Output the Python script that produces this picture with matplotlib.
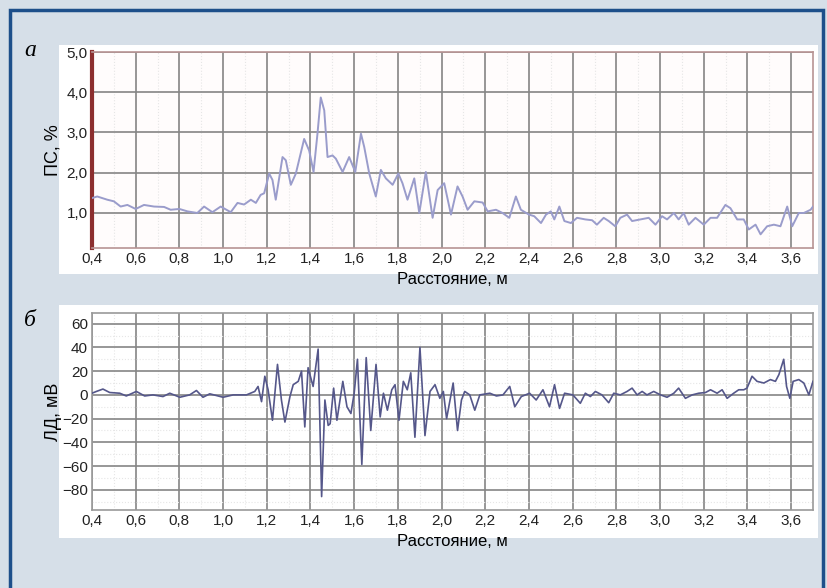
import matplotlib
matplotlib.use("Agg")
import matplotlib.pyplot as plt
from matplotlib.patches import Rectangle
from matplotlib.ticker import FixedLocator, MultipleLocator, FuncFormatter

# top panel: ПС, % vs distance
ps_x = [0.40, 0.424, 0.47, 0.50, 0.531, 0.562, 0.60, 0.638, 0.684, 0.73, 0.76, 0.80, 0.837, 0.882,
        0.913, 0.951, 0.989, 1.035, 1.066, 1.096, 1.127, 1.15, 1.172, 1.188, 1.211, 1.226, 1.241,
        1.272, 1.287, 1.31, 1.333, 1.371, 1.394, 1.414, 1.432, 1.447, 1.463, 1.478,
        1.501, 1.516, 1.547, 1.577, 1.605, 1.631, 1.646, 1.669, 1.699, 1.722, 1.745, 1.776, 1.802,
        1.821, 1.844, 1.875, 1.898, 1.928, 1.959, 1.982, 2.012, 2.043, 2.073, 2.096, 2.119, 2.15,
        2.188, 2.211, 2.249, 2.279, 2.31, 2.34, 2.363, 2.40, 2.424, 2.455, 2.478, 2.50, 2.516,
        2.539, 2.562, 2.592, 2.62, 2.658, 2.689, 2.711, 2.742, 2.765, 2.795, 2.818, 2.849, 2.872,
        2.91, 2.948, 2.979, 3.009, 3.032, 3.063, 3.085, 3.108, 3.131, 3.162, 3.20, 3.231, 3.261,
        3.299, 3.322, 3.353, 3.383, 3.406, 3.437, 3.46, 3.49, 3.521, 3.551, 3.582, 3.605, 3.635,
        3.658, 3.689, 3.70]
ps_y = [1.37, 1.41, 1.33, 1.29, 1.16, 1.20, 1.10, 1.20, 1.16, 1.15, 1.08, 1.10, 1.04, 1.00,
        1.16, 1.02, 1.16, 1.02, 1.25, 1.21, 1.33, 1.25, 1.45, 1.49, 1.98, 1.82, 1.33,
        2.39, 2.31, 1.70, 1.98, 2.84, 2.55, 2.02, 2.97, 3.87, 3.55, 2.39,
        2.43, 2.35, 2.02, 2.39, 2.02, 2.97, 2.64, 1.98, 1.41, 2.07, 1.86, 1.70, 1.98,
        1.74, 1.33, 1.86, 1.00, 2.02, 0.88, 1.57, 1.74, 0.96, 1.66, 1.41, 1.08, 1.29,
        1.26, 1.04, 1.08, 1.00, 0.88, 1.41, 1.08, 0.96, 0.92, 0.75, 0.96, 1.04, 0.84,
        1.16, 0.80, 0.75, 0.88, 0.84, 0.82, 0.71, 0.88, 0.80, 0.67, 0.88, 0.96, 0.80,
        0.84, 0.88, 0.71, 0.92, 0.84, 1.00, 0.84, 1.00, 0.71, 0.88, 0.71, 0.88, 0.88,
        1.20, 1.12, 0.84, 0.84, 0.59, 0.71, 0.47, 0.67, 0.71, 0.67, 1.16, 0.67,
        1.00, 1.00, 1.08, 1.16]

# bottom panel: ЛД, мВ vs distance
ld_x = [0.40, 0.42, 0.45, 0.481, 0.527, 0.557, 0.603, 0.641, 0.679, 0.725, 0.756, 0.802, 0.847,
        0.878, 0.908, 0.939, 1.0, 1.046, 1.107, 1.145, 1.16, 1.176, 1.191, 1.206, 1.226, 1.249,
        1.267, 1.283, 1.306, 1.321, 1.344, 1.359, 1.374, 1.389, 1.412, 1.435, 1.451, 1.466,
        1.481, 1.49, 1.506, 1.521, 1.548, 1.567, 1.585, 1.60, 1.615, 1.635, 1.655, 1.676, 1.70,
        1.719, 1.734, 1.752, 1.772, 1.787, 1.805, 1.825, 1.843, 1.859, 1.878, 1.901, 1.924,
        1.947, 1.97, 1.992, 2.008, 2.023, 2.053, 2.073, 2.091, 2.106, 2.129, 2.152, 2.175,
        2.221, 2.251, 2.281, 2.312, 2.335, 2.365, 2.403, 2.433, 2.464, 2.494, 2.517, 2.54,
        2.563, 2.601, 2.635, 2.658, 2.681, 2.704, 2.734, 2.765, 2.788, 2.818, 2.849, 2.872,
        2.895, 2.918, 2.94, 2.971, 3.002, 3.032, 3.063, 3.085, 3.116, 3.147, 3.177, 3.208,
        3.231, 3.261, 3.284, 3.307, 3.337, 3.36, 3.383, 3.398, 3.421, 3.444, 3.475, 3.505,
        3.528, 3.544, 3.566, 3.579, 3.594, 3.609, 3.635, 3.658, 3.681, 3.70]
ld_y = [1.4, 2.9, 4.9, 2.0, 1.4, -0.9, 2.9, -0.9, 0.0, -1.4, 1.4, -2.0, 0.0,
        3.7, -2.0, 0.9, -2.0, 0.0, 0.0, 2.9, 7.1, -5.7, 15.7, 4.3, -21.4, 25.7,
        -4.3, -22.9, -1.4, 8.6, 11.4, 20.0, -27.0, 22.9, 7.1, 38.6, -85.7, -4.3,
        -25.7, -24.3, 5.7, -21.4, 11.4, -10.0, -15.7, 1.4, 30.0, -58.6, 31.4, -30.0, 25.7,
        -18.6, 1.4, -12.9, 4.3, 8.6, -21.4, 11.4, 4.3, 18.6, -35.7, 40.0, -34.3,
        2.9, 8.6, -2.9, 2.9, -20.0, 10.0, -30.0, -4.3, 2.9, 0.0, -12.9, 0.0,
        1.4, -0.9, 0.0, 7.1, -10.0, -1.4, 1.4, -4.3, 4.3, -10.0, 8.6, -11.4,
        1.4, 0.0, -7.1, 1.4, -1.4, 2.9, 0.0, -6.6, 1.4, 0.0, 2.9, 5.7,
        0.0, 2.9, 0.0, 2.9, 0.0, -2.0, 1.4, 5.7, -2.9, 0.0, 1.4, 2.0,
        4.3, 1.4, 4.3, -2.9, 1.4, 4.3, 4.3, 5.7, 15.7, 11.4, 10.0, 12.9,
        11.4, 17.1, 30.0, 7.1, -2.9, 11.4, 12.9, 10.0, 0.0, 11.4]

x_ticks = [0.4, 0.6, 0.8, 1.0, 1.2, 1.4, 1.6, 1.8, 2.0, 2.2, 2.4, 2.6, 2.8, 3.0, 3.2, 3.4, 3.6]
ps_ticks = [1.0, 2.0, 3.0, 4.0, 5.0]
ld_ticks = [60, 40, 20, 0, -20, -40, -60, -80]

W, H = 828, 588
plt.rcParams['font.family'] = ['Liberation Sans Narrow', 'Liberation Sans', 'DejaVu Sans']

fig = plt.figure(figsize=(W / 100, H / 100), dpi=100)
fig.patch.set_facecolor('#d6dfe8')


def box(x0, y0, x1, y1):
    # pixel box -> figure fractions (left, bottom, width, height)
    return [x0 / W, 1 - y1 / H, (x1 - x0) / W, (y1 - y0) / H]


# outer frame and white panels
l, b, w, h = box(10, 10, 823, 600)
fig.patches.append(Rectangle((l, b), w, h, transform=fig.transFigure, fill=False,
                             edgecolor='#1d4f8a', linewidth=2.5, zorder=-5))
for y0, y1 in [(45, 274), (305, 538)]:
    l, b, w, h = box(59, y0, 818, y1)
    fig.patches.append(Rectangle((l, b), w, h, transform=fig.transFigure,
                                 facecolor='white', edgecolor='none', zorder=-5))

comma = FuncFormatter(lambda v, p: ('%.1f' % v).replace('.', ','))

ax1 = fig.add_axes(box(92, 52, 813, 248))
ax1.set_facecolor('#fffcfc')
ax1.plot(ps_x, ps_y, color='#9a9ccb', lw=1.4, zorder=3)
ax1.set_xlim(0.4, 3.7)
ax1.set_ylim(0.13, 5.0)
ax1.set_yticks(ps_ticks)
ax1.yaxis.set_major_formatter(comma)
ax1.set_ylabel('ПС, %', fontsize=13, labelpad=4)
for s in ['top', 'right', 'bottom']:
    ax1.spines[s].set_color('#b89494')
    ax1.spines[s].set_linewidth(1.2)
ax1.spines['left'].set_color('#8c2f2f')
ax1.spines['left'].set_linewidth(3)

ax2 = fig.add_axes(box(92, 313, 813, 510))
ax2.set_facecolor('white')
ax2.plot(ld_x, ld_y, color='#55578a', lw=1.2, zorder=3)
ax2.set_xlim(0.4, 3.7)
ax2.set_ylim(-97, 69)
ax2.set_yticks(ld_ticks)
ax2.yaxis.set_major_formatter(FuncFormatter(lambda v, p: ('%d' % v).replace('-', '\u2212')))
ax2.set_ylabel('ЛД, мВ', fontsize=13, labelpad=0)
ax2.yaxis.set_minor_locator(MultipleLocator(10))
for s in ax2.spines.values():
    s.set_color('#9a9a9a')
    s.set_linewidth(1.2)

for ax in (ax1, ax2):
    ax.set_zorder(2)
    ax.xaxis.set_major_locator(FixedLocator(x_ticks))
    ax.xaxis.set_major_formatter(comma)
    ax.xaxis.set_minor_locator(MultipleLocator(0.1))
    ax.grid(True, which='major', color='#858585', lw=1.2, zorder=1)
    ax.grid(True, which='minor', color='#e6e6e6', lw=0.8, ls=':', zorder=1)
    ax.tick_params(which='both', length=0, labelsize=11, pad=3, colors='#222222')
    ax.set_xlabel('Расстояние, м', fontsize=12, labelpad=4)
    ax.set_axisbelow(True)

fig.text(24 / W, 1 - 50 / H, 'а', fontsize=17, style='italic', family='Liberation Serif',
         va='center', ha='left')
fig.text(24 / W, 1 - 320 / H, 'б', fontsize=17, style='italic', family='Liberation Serif',
         va='center', ha='left')

fig.savefig('out.png', dpi=100, facecolor=fig.get_facecolor())
